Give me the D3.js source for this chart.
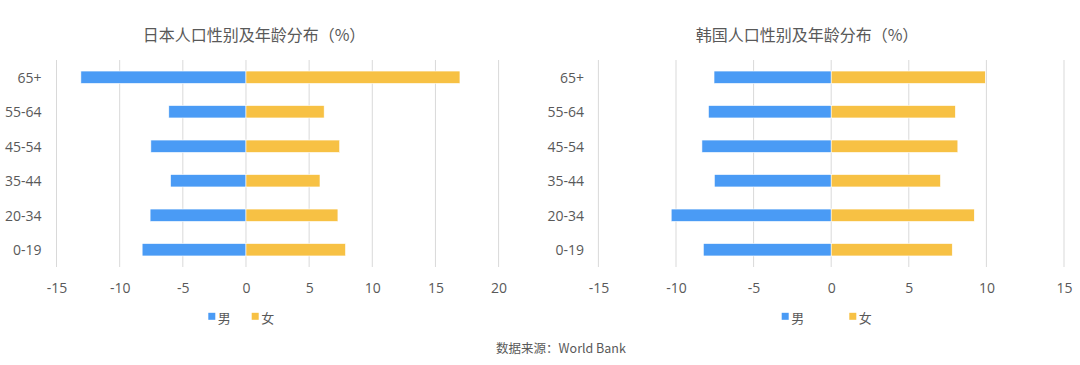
<!DOCTYPE html>
<html>
<head>
<meta charset="utf-8">
<script src="https://cdn.jsdelivr.net/npm/d3@7"></script>
<style>
  html, body { margin: 0; padding: 0; background: #fff; }
  svg { display: block; }
  text { font-family: "Noto Sans CJK SC", "Noto Sans", sans-serif; fill: #595959; }
</style>
</head>
<body>
<svg id="chart" width="1080" height="365"></svg>
<script>
const ageGroups = ["65+", "55-64", "45-54", "35-44", "20-34", "0-19"];
const japanMale = [-13.07, -6.11, -7.53, -5.97, -7.59, -8.22];
const japanFemale = [16.94, 6.19, 7.42, 5.86, 7.28, 7.88];
const koreaMale = [-7.55, -7.91, -8.33, -7.53, -10.31, -8.24];
const koreaFemale = [9.93, 8.0, 8.16, 7.04, 9.22, 7.8];
const japanTicks = [-15, -10, -5, 0, 5, 10, 15, 20];
const koreaTicks = [-15, -10, -5, 0, 5, 10, 15];
const seriesNames = ["男", "女"];
const titles = ["日本人口性别及年龄分布（%）", "韩国人口性别及年龄分布（%）"];
const sourceText = "数据来源：World Bank";

const colors = { male: "#4a9bf5", female: "#f7c144" };
const numFont = "\"Open Sans\", \"Noto Sans\", sans-serif";
const svg = d3.select("#chart");

function drawChart(cfg) {
  const g = svg.append("g");
  const x = d3.scaleLinear().domain(cfg.domain).range(cfg.xRange);
  const y = d3.scaleBand().domain(ageGroups).range([60, 267]).padding(0);
  const barH = y.bandwidth() * 0.36;

  g.append("text")
    .attr("x", cfg.titleX).attr("y", 33.5)
    .attr("text-anchor", "middle").attr("dominant-baseline", "central")
    .style("font-size", "16px")
    .text(cfg.title);

  g.selectAll("line.grid").data(cfg.ticks).enter().append("line")
    .attr("class", "grid")
    .attr("x1", d => x(d)).attr("x2", d => x(d))
    .attr("y1", 60).attr("y2", 267)
    .attr("stroke", "#d9d9d9").attr("stroke-width", 1);

  const xAxis = d3.axisBottom(x).tickValues(cfg.ticks).tickSize(0).tickPadding(0).tickFormat(d => String(d));
  const ax = g.append("g").attr("transform", "translate(0,287.5)").call(xAxis);
  ax.select(".domain").remove();
  ax.selectAll("text")
    .attr("dy", null).attr("y", 0)
    .attr("dominant-baseline", "central")
    .style("font-size", "14px").style("font-family", numFont).attr("fill", "#595959");

  const yAxis = d3.axisLeft(y).tickSize(0).tickPadding(0);
  const ay = g.append("g").attr("transform", `translate(${cfg.labelX},0)`).call(yAxis);
  ay.select(".domain").remove();
  ay.selectAll("text")
    .attr("dy", null).attr("x", 0)
    .attr("dominant-baseline", "central")
    .style("font-size", "14px").style("font-family", numFont).attr("fill", "#595959");

  const rows = ageGroups.map((a, i) => ({ age: a, m: cfg.male[i], f: cfg.female[i] }));
  g.selectAll("rect.m").data(rows).enter().append("rect")
    .attr("class", "m")
    .attr("x", d => x(d.m)).attr("width", d => x(0) - x(d.m))
    .attr("y", d => y(d.age) + (y.bandwidth() - barH) / 2).attr("height", barH)
    .attr("fill", colors.male).attr("stroke", "#fff").attr("stroke-width", 0.6);
  g.selectAll("rect.f").data(rows).enter().append("rect")
    .attr("class", "f")
    .attr("x", x(0)).attr("width", d => x(d.f) - x(0))
    .attr("y", d => y(d.age) + (y.bandwidth() - barH) / 2).attr("height", barH)
    .attr("fill", colors.female).attr("stroke", "#fff").attr("stroke-width", 0.6);

  const lg = g.append("g");
  const items = [
    { name: seriesNames[0], color: colors.male, x: cfg.legendX[0] },
    { name: seriesNames[1], color: colors.female, x: cfg.legendX[1] }
  ];
  items.forEach(it => {
    lg.append("rect").attr("x", it.x).attr("y", 312.8).attr("width", 7).attr("height", 7).attr("fill", it.color);
    lg.append("text").attr("x", it.x + 9.5).attr("y", 317.5)
      .attr("dominant-baseline", "central")
      .style("font-size", "13px").text(it.name);
  });
}

drawChart({
  title: titles[0], titleX: 254,
  domain: [-15, 20], xRange: [56.5, 498.6], ticks: japanTicks,
  male: japanMale, female: japanFemale,
  labelX: 41.5, legendX: [208.3, 251.7]
});
drawChart({
  title: titles[1], titleX: 807,
  domain: [-15, 15], xRange: [598.4, 1064], ticks: koreaTicks,
  male: koreaMale, female: koreaFemale,
  labelX: 584, legendX: [781.7, 849.3]
});

svg.append("text")
  .attr("x", 561).attr("y", 347)
  .attr("text-anchor", "middle").attr("dominant-baseline", "central")
  .style("font-size", "12.5px")
  .text(sourceText);
</script>
</body>
</html>
